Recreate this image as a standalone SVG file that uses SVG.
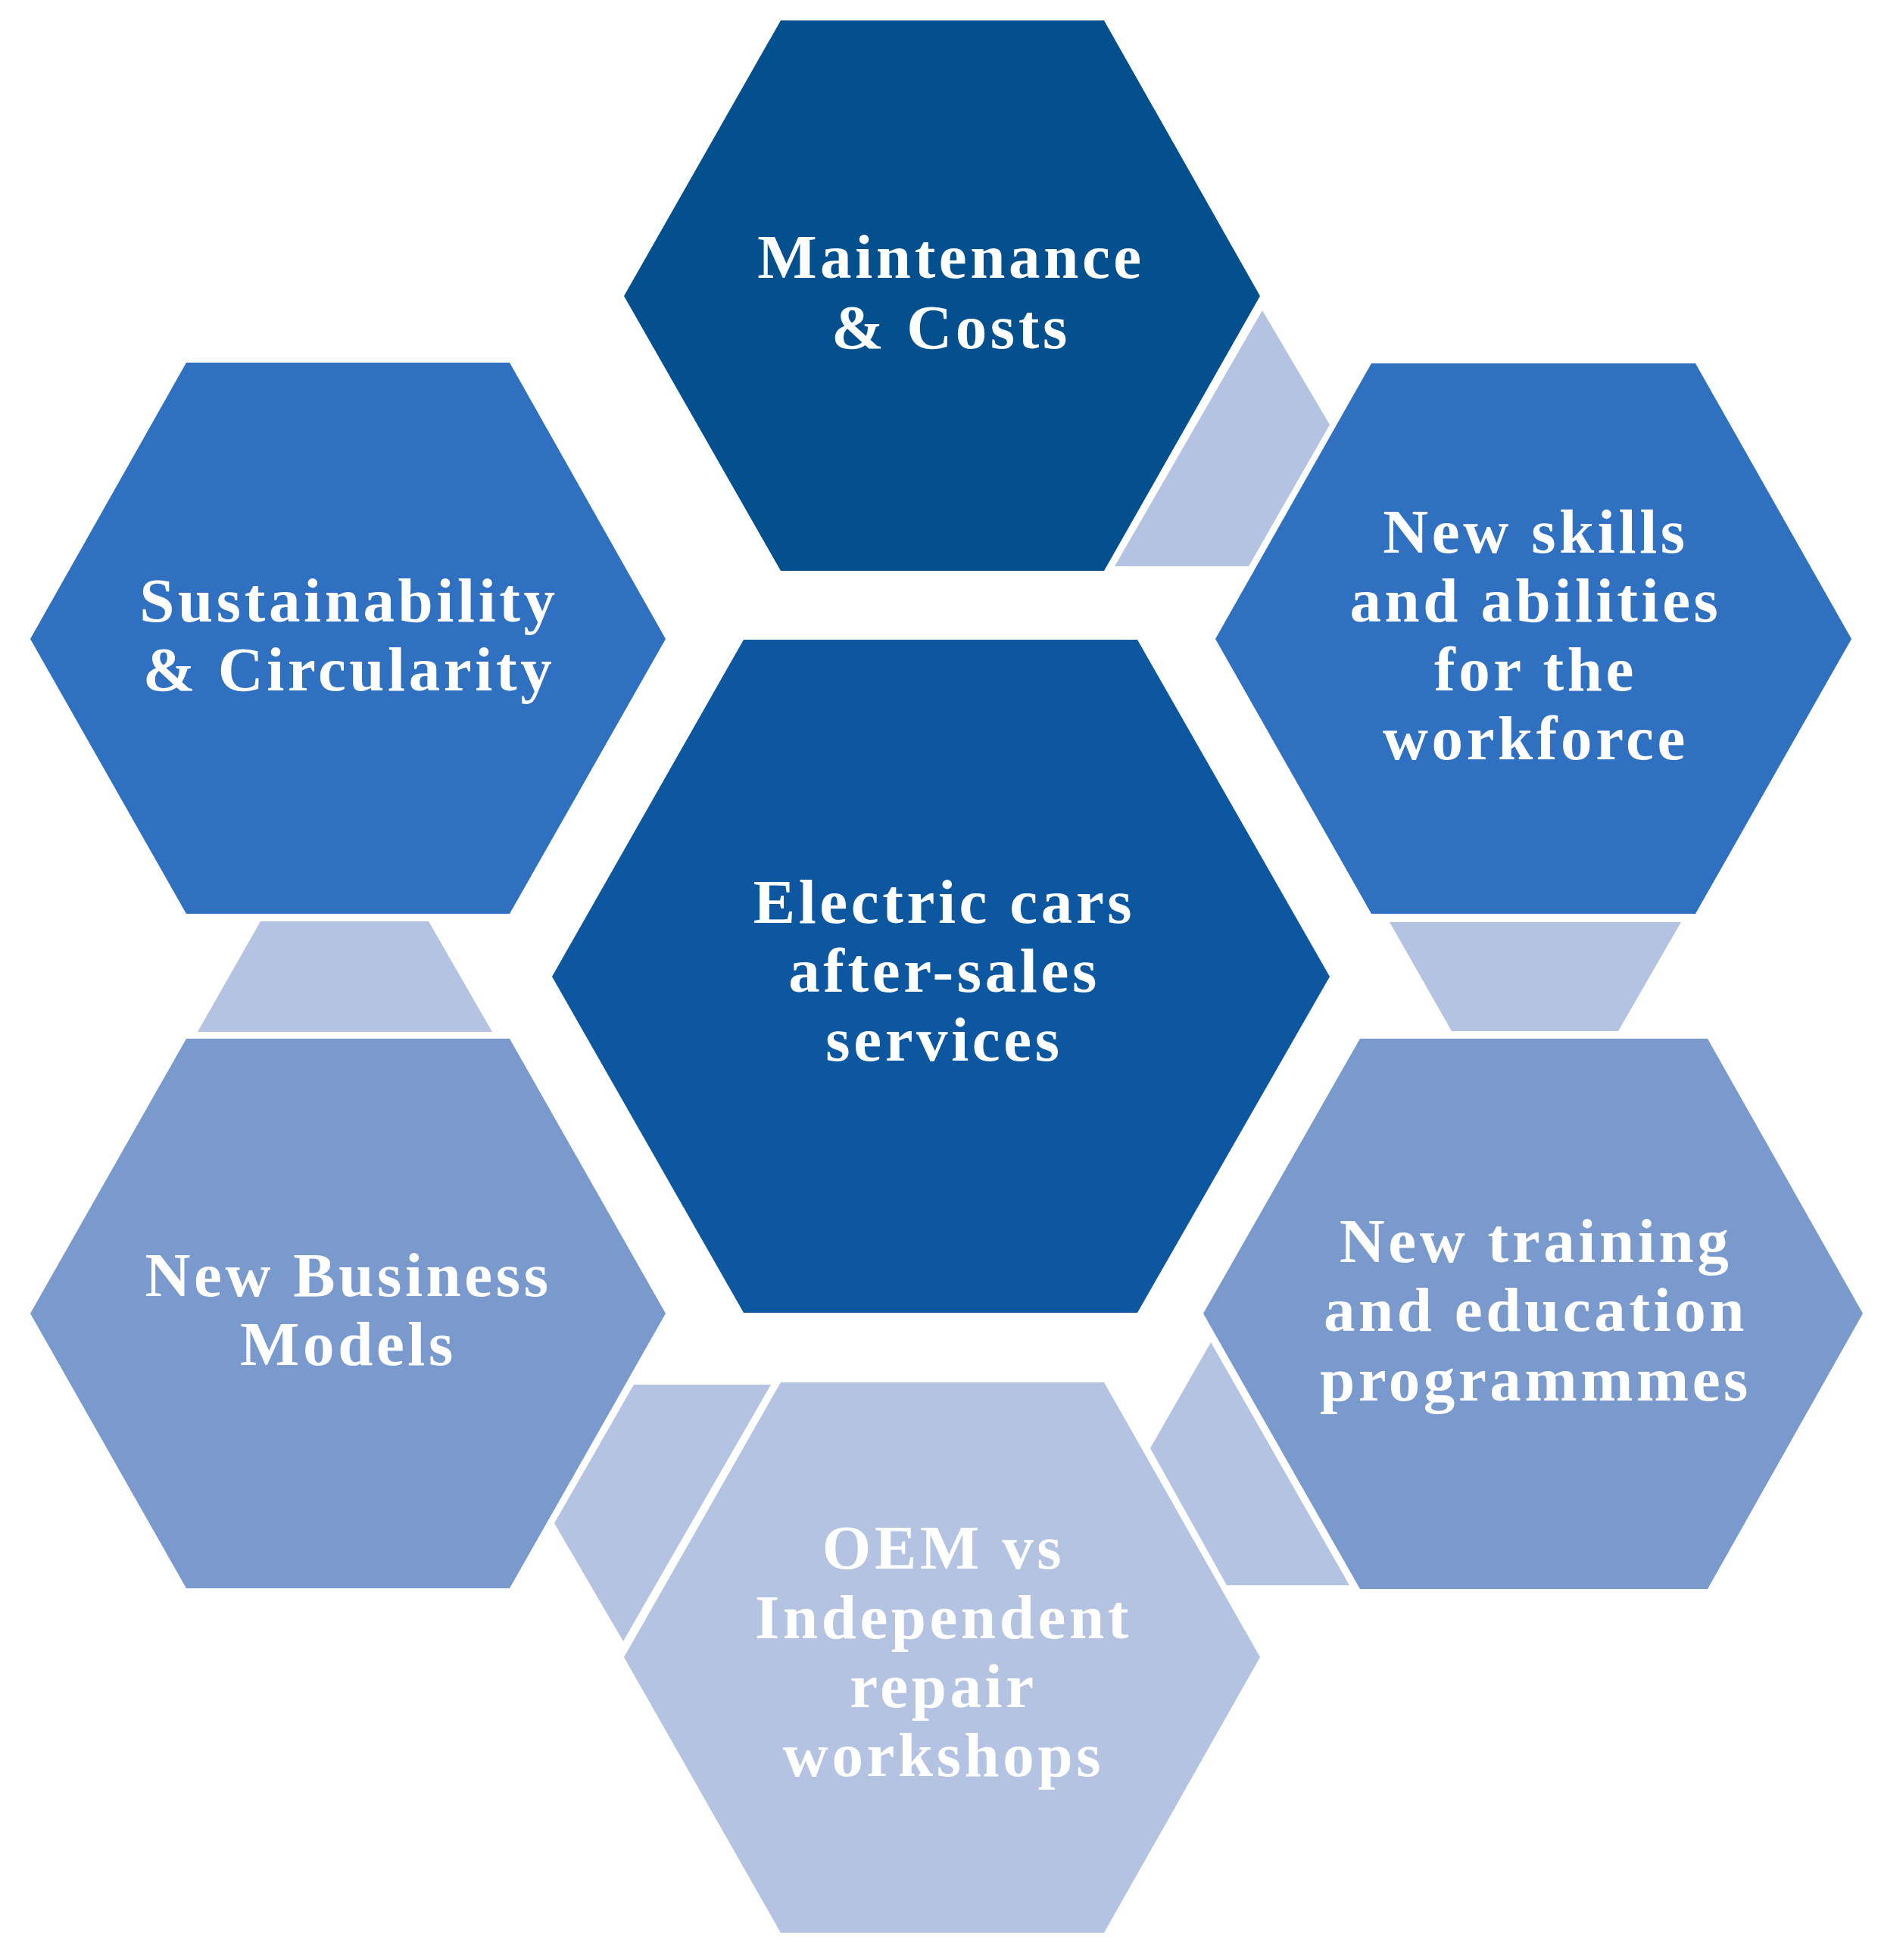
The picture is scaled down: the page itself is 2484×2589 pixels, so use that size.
<svg xmlns="http://www.w3.org/2000/svg" width="2484" height="2589" viewBox="0 0 2484 2589">
<style>
.lbl{font-family:"Liberation Serif","Times New Roman",serif;font-weight:bold;font-size:83px;fill:#ffffff;text-anchor:middle;letter-spacing:4.6px}
.con{fill:#B4C3E1}
.c0{fill:#04508F}
.c1{fill:#0C57A0}
.c2{fill:#2F70C1}
.c3{fill:#7A9ACE}
.c4{fill:#B4C3E1}
</style>
<rect width="2484" height="2589" fill="#ffffff"/>
<g id="connectors">
<polygon class="con" points="1667,410 1756,561 1649,748 1472,748"/>
<polygon class="con" points="1835,1218 2220,1218 2137,1362 1917,1362"/>
<polygon class="con" points="1599,1773 1519,1913 1620,2094 1782,2094"/>
<polygon class="con" points="837,1829 1018,1829 823,2168 732,2012"/>
<polygon class="con" points="344,1217 566,1217 650,1363 261,1363"/>
</g>
<g id="node-maintenance">
<polygon class="c0" points="1031,27 1458,27 1664,391 1458,754 1031,754 824,391"/>
<text class="lbl" x="1256" y="367">Maintenance</text>
<text class="lbl" x="1256" y="460">&amp; Costs</text>
</g>
<g id="node-sustainability">
<polygon class="c2" points="246,479 673,479 879,844 673,1207 246,1207 40,844"/>
<text class="lbl" x="461" y="821">Sustainability</text>
<text class="lbl" x="461" y="912">&amp; Circularity</text>
</g>
<g id="node-skills">
<polygon class="c2" points="1811,480 2239,480 2445,844 2239,1207 1811,1207 1605,844"/>
<text class="lbl" x="2028" y="730">New skills</text>
<text class="lbl" x="2028" y="821">and abilities</text>
<text class="lbl" x="2028" y="912">for the</text>
<text class="lbl" x="2028" y="1003">workforce</text>
</g>
<g id="node-center">
<polygon class="c1" points="982,845 1502,845 1756,1290 1502,1734 982,1734 729,1290"/>
<text class="lbl" x="1247" y="1219">Electric cars</text>
<text class="lbl" x="1247" y="1310">after-sales</text>
<text class="lbl" x="1247" y="1401">services</text>
</g>
<g id="node-business">
<polygon class="c3" points="246,1372 673,1372 879,1735 673,2098 246,2098 40,1735"/>
<text class="lbl" x="460" y="1712">New Business</text>
<text class="lbl" x="460" y="1803">Models</text>
</g>
<g id="node-training">
<polygon class="c3" points="1796,1372 2255,1372 2460,1735 2255,2099 1796,2099 1589,1735"/>
<text class="lbl" x="2028" y="1667">New training</text>
<text class="lbl" x="2028" y="1758">and education</text>
<text class="lbl" x="2028" y="1850">programmmes</text>
</g>
<g id="node-oem">
<polygon class="c4" points="1031,1826 1458,1826 1664,2189 1458,2553 1031,2553 824,2189"/>
<text class="lbl" x="1246" y="2072">OEM vs</text>
<text class="lbl" x="1246" y="2164">Independent</text>
<text class="lbl" x="1246" y="2255">repair</text>
<text class="lbl" x="1246" y="2346">workshops</text>
</g>
</svg>
